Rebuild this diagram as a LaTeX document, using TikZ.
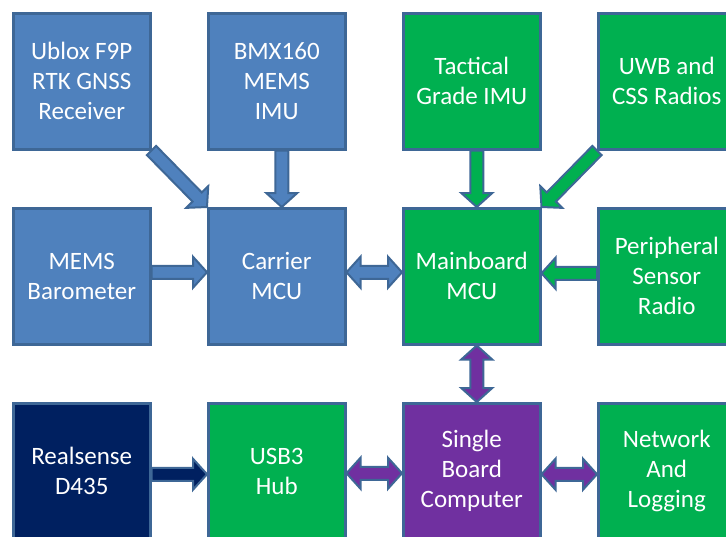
\documentclass[tikz,border=0pt]{standalone}
\usepackage{fontspec}
\setmainfont{Carlito}
\usetikzlibrary{positioning,calc}
\definecolor{boxBlue}{HTML}{4F81BD}
\definecolor{boxGreen}{HTML}{00B050}
\definecolor{boxPurple}{HTML}{7030A0}
\definecolor{boxNavy}{HTML}{002060}
\definecolor{boxEdge}{HTML}{3E6796}
\tikzstyle{box} = [draw=boxEdge, line width=2.5pt, rectangle, minimum width=137pt, minimum height=136pt,
	inner sep=0pt, align=center, text=white, font=\fontsize{25}{30}\selectfont]
\tikzstyle{arrowEdge} = [draw=boxEdge, line width=2pt, line join=miter]
% Blockpfeil: Farbe, Start, Spitze
\newcommand{\blockArrow}[3]{%
	\coordinate (ba-s) at (#2);
	\coordinate (ba-t) at (#3);
	\coordinate (ba-h) at ($(ba-t)!14pt!(ba-s)$);
	\filldraw[arrowEdge, fill=#1] ($(ba-s)!6.5pt!90:(ba-t)$) -- ($(ba-h)!6.5pt!90:(ba-t)$)
		-- ($(ba-h)!15.5pt!90:(ba-t)$) -- (ba-t) -- ($(ba-h)!15.5pt!-90:(ba-t)$)
		-- ($(ba-h)!6.5pt!-90:(ba-t)$) -- ($(ba-s)!6.5pt!-90:(ba-t)$) -- cycle;}
% Doppelpfeil: Farbe, Spitze A, Spitze B
\newcommand{\doubleArrow}[3]{%
	\coordinate (da-a) at (#2);
	\coordinate (da-b) at (#3);
	\coordinate (da-ha) at ($(da-a)!14pt!(da-b)$);
	\coordinate (da-hb) at ($(da-b)!14pt!(da-a)$);
	\filldraw[arrowEdge, fill=#1] (da-a) -- ($(da-ha)!15.5pt!90:(da-b)$) -- ($(da-ha)!6.5pt!90:(da-b)$)
		-- ($(da-hb)!6.5pt!90:(da-b)$) -- ($(da-hb)!15.5pt!90:(da-b)$) -- (da-b)
		-- ($(da-hb)!15.5pt!-90:(da-b)$) -- ($(da-hb)!6.5pt!-90:(da-b)$)
		-- ($(da-ha)!6.5pt!-90:(da-b)$) -- ($(da-ha)!15.5pt!-90:(da-b)$) -- cycle;}
\begin{document}
\begin{tikzpicture}[node distance=56.5pt and 55.5pt]
		\useasboundingbox (0,0) rectangle (726pt,-536pt);
		% nodes
		\node[box, fill=boxBlue, anchor=north west] (ublox) at (12pt,-12pt) {Ublox F9P\\RTK GNSS\\Receiver};	% GNSS
		\node[box, fill=boxBlue, right=of ublox] (bmx) {BMX160\\MEMS\\IMU};							% MEMS IMU
		\node[box, fill=boxGreen, right=of bmx] (tactical) {Tactical\\Grade IMU};
		\node[box, fill=boxGreen, right=of tactical] (uwb) {UWB and\\CSS Radios};
		\node[box, fill=boxBlue, below=of ublox] (baro) {MEMS\\Barometer};
		\node[box, fill=boxBlue, below=of bmx] (carrier) {Carrier\\MCU};
		\node[box, fill=boxGreen, below=of tactical] (mainboard) {Mainboard\\MCU};
		\node[box, fill=boxGreen, below=of uwb] (peripheral) {Peripheral\\Sensor\\Radio};
		\node[box, fill=boxNavy, below=of baro] (realsense) {Realsense\\D435};
		\node[box, fill=boxGreen, below=of carrier] (usb) {USB3\\Hub};
		\node[box, fill=boxPurple, below=of mainboard] (sbc) {Single\\Board\\Computer};
		\node[box, fill=boxGreen, below=of peripheral] (network) {Network\\And\\Logging};
		
		% arrows
		\blockArrow{boxBlue}{ublox.south east}{carrier.north west}
		\blockArrow{boxBlue}{[xshift=5pt]bmx.south}{[xshift=5pt]carrier.north}
		\blockArrow{boxBlue}{[yshift=4pt]baro.east}{[yshift=4pt]carrier.west}
		\doubleArrow{boxBlue}{[yshift=4pt]carrier.east}{[yshift=4pt]mainboard.west}
		\blockArrow{boxGreen}{[xshift=5pt]tactical.south}{[xshift=5pt]mainboard.north}
		\blockArrow{boxGreen}{uwb.south west}{mainboard.north east}
		\blockArrow{boxGreen}{[yshift=3pt]peripheral.west}{[yshift=3pt]mainboard.east}
		\doubleArrow{boxPurple}{[xshift=5pt]mainboard.south}{[xshift=5pt]sbc.north}
		\blockArrow{boxNavy}{[yshift=-3pt]realsense.east}{[yshift=-3pt]usb.west}
		\doubleArrow{boxPurple}{[yshift=-2pt]usb.east}{[yshift=-2pt]sbc.west}
		\doubleArrow{boxPurple}{[yshift=-3pt]sbc.east}{[yshift=-3pt]network.west}
\end{tikzpicture}
\end{document}
